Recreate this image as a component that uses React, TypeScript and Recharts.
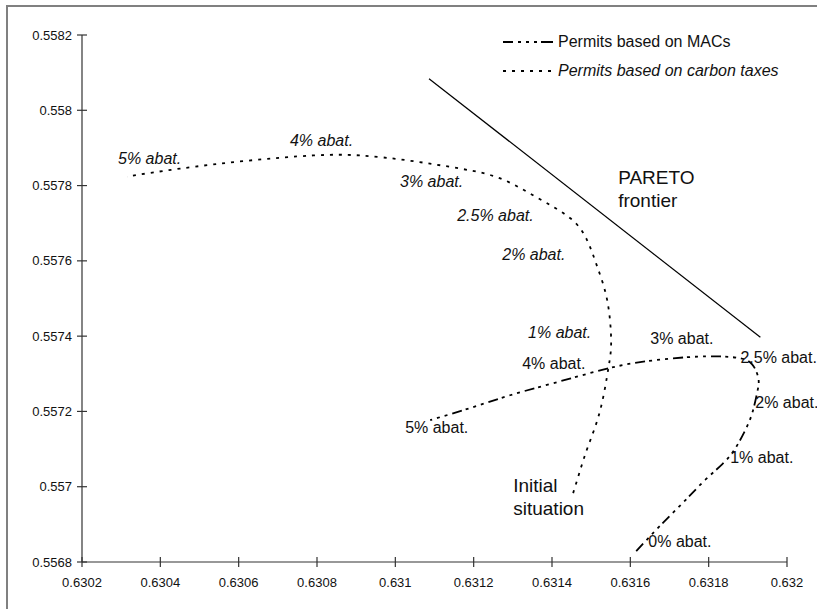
import React from 'react';
import { LineChart, Line, XAxis, YAxis, ReferenceDot, Legend } from 'recharts';

// Axis ticks
const X_TICKS = [0.6302, 0.6304, 0.6306, 0.6308, 0.631, 0.6312, 0.6314, 0.6316, 0.6318, 0.632];
const Y_TICKS = [0.5568, 0.557, 0.5572, 0.5574, 0.5576, 0.5578, 0.558, 0.5582];

// Permits based on MACs: path from 0% to 5% abatement
const MAC_PATH: [number, number][] = [
  [0.631615, 0.556829],
  [0.631661, 0.55688],
  [0.631705, 0.556927],
  [0.631748, 0.556972],
  [0.631791, 0.557018],
  [0.631835, 0.55706],
  [0.631865, 0.557097],
  [0.631891, 0.557145],
  [0.631911, 0.557195],
  [0.631924, 0.557251],
  [0.631927, 0.557288],
  [0.631911, 0.557325],
  [0.631881, 0.557341],
  [0.63183, 0.557346],
  [0.631745, 0.557344],
  [0.631625, 0.557331],
  [0.631523, 0.557309],
  [0.631403, 0.557275],
  [0.631293, 0.557243],
  [0.631191, 0.557209],
  [0.631089, 0.557177],
];

// Permits based on carbon taxes: path from the initial situation to 5% abatement
const TAX_PATH: [number, number][] = [
  [0.631454, 0.556983],
  [0.631472, 0.557044],
  [0.631493, 0.55711],
  [0.631523, 0.557203],
  [0.631544, 0.557315],
  [0.631551, 0.557389],
  [0.631541, 0.557495],
  [0.631516, 0.557583],
  [0.63149, 0.557654],
  [0.631447, 0.557713],
  [0.631362, 0.557768],
  [0.631268, 0.557819],
  [0.631166, 0.557845],
  [0.631038, 0.557866],
  [0.63091, 0.55788],
  [0.63079, 0.55788],
  [0.630622, 0.557866],
  [0.63045, 0.557845],
  [0.630315, 0.557824],
];

// Pareto frontier segment
const PARETO_PATH: [number, number][] = [
  [0.631086, 0.558084],
  [0.631932, 0.557397],
];

// Annotations (text anchored at its left baseline, in data units)
const TAX_LABELS: [string, number, number][] = [
  ['5% abat.', 0.630292, 0.557858],
  ['4% abat.', 0.630731, 0.557906],
  ['3% abat.', 0.631012, 0.557795],
  ['2.5% abat.', 0.631158, 0.557707],
  ['2% abat.', 0.631273, 0.557601],
  ['1% abat.', 0.631339, 0.557394],
];

const MAC_LABELS: [string, number, number][] = [
  ['5% abat.', 0.631025, 0.557142],
  ['4% abat.', 0.631324, 0.557312],
  ['3% abat.', 0.631651, 0.557378],
  ['2.5% abat.', 0.631881, 0.557328],
  ['2% abat.', 0.631919, 0.557209],
  ['1% abat.', 0.631855, 0.557063],
  ['0% abat.', 0.631646, 0.55684],
];

const NOTES: [string[], number, number][] = [
  [['PARETO', 'frontier'], 0.631569, 0.557805],
  [['Initial', 'situation'], 0.631301, 0.556986],
];

const toRows = (path: [number, number][]) => path.map(([x, y]) => ({ x, y }));
const macData = toRows(MAC_PATH);
const taxData = toRows(TAX_PATH);
const paretoData = toRows(PARETO_PATH);

const FONT = '"Liberation Sans", Arial, Helvetica, sans-serif';
const AXIS = '#333';
const MAC_DASH = '10 5 3 5 3 5 3 4';
const TAX_DASH = '3 6';

const YTick = (props: any) => {
  const { x, y, payload } = props;
  return (
    <g>
      <line x1={x + 5} x2={x + 15} y1={y} y2={y} stroke={AXIS} strokeWidth={1.2} />
      <text x={x} y={y} dy={4.5} textAnchor="end" fontSize={13} fontFamily={FONT} fill="#111">
        {String(payload.value)}
      </text>
    </g>
  );
};

const XTick = (props: any) => {
  const { x, y, payload } = props;
  return (
    <g>
      <line x1={x} x2={x} y1={y - 15} y2={y - 5} stroke={AXIS} strokeWidth={1.2} />
      <text x={x} y={y + 15} textAnchor="middle" fontSize={13} fontFamily={FONT} fill="#111">
        {String(payload.value)}
      </text>
    </g>
  );
};

const renderLegend = () => (
  <svg width={320} height={60} style={{ display: 'block' }}>
    <line x1={3} x2={53} y1={17} y2={17} stroke="#000" strokeWidth={2} strokeDasharray="10 5 3 5 3 5 3 4 12" />
    <text x={58} y={22} fontSize={16} fontFamily={FONT} fill="#111">
      Permits based on MACs
    </text>
    <line x1={3} x2={53} y1={46} y2={46} stroke="#000" strokeWidth={2} strokeDasharray={TAX_DASH} />
    <text x={58} y={51} fontSize={16} fontStyle="italic" fontFamily={FONT} fill="#111">
      Permits based on carbon taxes
    </text>
  </svg>
);

const labelShape = (text: string, italic: boolean) => (p: any) => (
  <text
    x={p.cx}
    y={p.cy}
    fontSize={16}
    fontStyle={italic ? 'italic' : 'normal'}
    fontFamily={FONT}
    fill="#111"
  >
    {text}
  </text>
);

const noteShape = (lines: string[]) => (p: any) => (
  <text x={p.cx} y={p.cy} fontSize={19} fontFamily={FONT} fill="#111">
    {lines.map((l, i) => (
      <tspan key={i} x={p.cx} dy={i === 0 ? 0 : 23}>
        {l}
      </tspan>
    ))}
  </text>
);

export default function App() {
  return (
    <div
      style={{
        position: 'absolute',
        left: 0,
        top: 0,
        width: 817,
        height: 609,
        overflow: 'hidden',
        background: '#fff',
      }}
    >
      <div
        style={{
          position: 'absolute',
          left: 6,
          top: 5,
          width: 1000,
          height: 1000,
          borderLeft: '2px solid #808080',
          borderTop: '2px solid #808080',
        }}
      />
      <div style={{ position: 'absolute', left: 0, top: 0 }}>
        <LineChart width={817} height={609} margin={{ top: 35, right: 30, bottom: 0, left: 0 }}>
          <XAxis
            type="number"
            dataKey="x"
            domain={[0.6302, 0.632]}
            ticks={X_TICKS}
            interval={0}
            height={47}
            tickSize={5}
            tickMargin={5}
            tickLine={false}
            tick={<XTick />}
            axisLine={{ stroke: AXIS, strokeWidth: 1.2 }}
            allowDataOverflow
          />
          <YAxis
            type="number"
            dataKey="y"
            domain={[0.5568, 0.5582]}
            ticks={Y_TICKS}
            interval={0}
            width={82}
            tickSize={5}
            tickMargin={5}
            tickLine={false}
            tick={<YTick />}
            axisLine={{ stroke: AXIS, strokeWidth: 1.2 }}
            allowDataOverflow
          />
          <Legend
            layout="vertical"
            align="center"
            verticalAlign="middle"
            content={renderLegend}
            wrapperStyle={{ position: 'absolute', left: 500, top: 25, width: 320, height: 60 }}
          />
          <Line
            data={paretoData}
            dataKey="y"
            type="linear"
            stroke="#000"
            strokeWidth={1.2}
            dot={false}
            isAnimationActive={false}
          />
          <Line
            data={taxData}
            dataKey="y"
            type="natural"
            stroke="#000"
            strokeWidth={1.8}
            strokeDasharray={TAX_DASH}
            dot={false}
            isAnimationActive={false}
          />
          <Line
            data={macData}
            dataKey="y"
            type="natural"
            stroke="#000"
            strokeWidth={1.8}
            strokeDasharray={MAC_DASH}
            dot={false}
            isAnimationActive={false}
          />
          {TAX_LABELS.map(([t, x, y], i) => (
            <ReferenceDot key={'t' + i} x={x} y={y} r={0} ifOverflow="visible" shape={labelShape(t, true)} />
          ))}
          {MAC_LABELS.map(([t, x, y], i) => (
            <ReferenceDot key={'m' + i} x={x} y={y} r={0} ifOverflow="visible" shape={labelShape(t, false)} />
          ))}
          {NOTES.map(([lines, x, y], i) => (
            <ReferenceDot key={'n' + i} x={x} y={y} r={0} ifOverflow="visible" shape={noteShape(lines)} />
          ))}
        </LineChart>
      </div>
    </div>
  );
}
